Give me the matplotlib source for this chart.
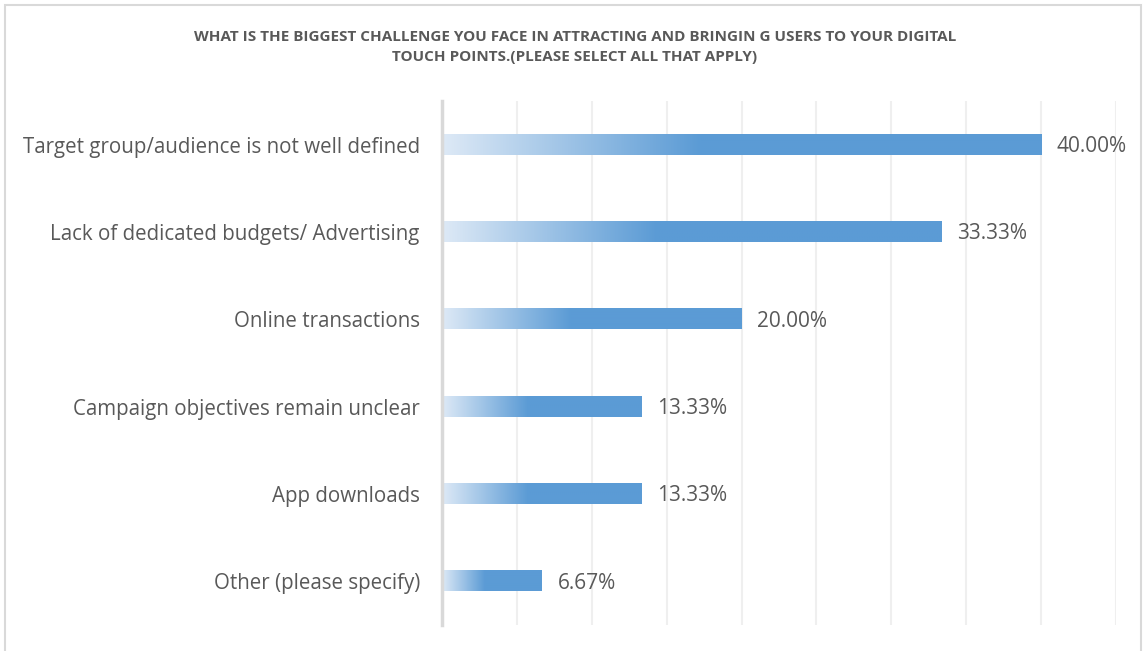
import numpy as np
import matplotlib.pyplot as plt
from matplotlib.colors import LinearSegmentedColormap
from matplotlib.patches import Rectangle

# survey answers, top to bottom
challenges = [
    "Target group/audience is not well defined",
    "Lack of dedicated budgets/ Advertising",
    "Online transactions",
    "Campaign objectives remain unclear",
    "App downloads",
    "Other (please specify)",
]
shares = [0.4000, 0.3333, 0.2000, 0.1333, 0.1333, 0.0667]
share_labels = ["40.00%", "33.33%", "20.00%", "13.33%", "13.33%", "6.67%"]

title = ("WHAT IS THE BIGGEST CHALLENGE YOU FACE IN ATTRACTING AND BRINGIN G USERS TO YOUR DIGITAL\n"
         "TOUCH POINTS.(PLEASE SELECT ALL THAT APPLY)")

TEXT = "#595959"
BLUE = "#5b9bd5"
grad = LinearSegmentedColormap.from_list("fade", ["#dde9f6", BLUE])

fig = plt.figure(figsize=(11.44, 6.51), dpi=100)
fig.patch.set_facecolor("white")

# light outer frame
fig.patches.append(Rectangle((5 / 1144, -0.05), 1136 / 1144, 1.05 - 5 / 651,
                             transform=fig.transFigure, fill=False,
                             edgecolor="#d9d9d9", linewidth=1.5))

ax = fig.add_axes([442 / 1144, 26 / 651, 674 / 1144, 524 / 651])

y = np.arange(len(challenges))
bars = ax.barh(y, shares, height=0.23, facecolor="none", edgecolor="none", zorder=3)

# gradient fill: light at the base, full blue from ~43% of the bar length
for bar in bars:
    x0, y0 = bar.get_x(), bar.get_y()
    w, h = bar.get_width(), bar.get_height()
    t = np.clip(np.linspace(0, 1, 300) / 0.43, 0, 1)
    ax.imshow(t[np.newaxis, :], cmap=grad, vmin=0, vmax=1, aspect="auto",
              extent=[x0, x0 + w, y0, y0 + h], interpolation="bilinear", zorder=3)

for bar, lab in zip(bars, share_labels):
    ax.text(bar.get_width() + 0.0105, bar.get_y() + bar.get_height() / 2 + 0.02, lab,
            va="center", ha="left", fontsize=15, color=TEXT,
            family=["Open Sans", "DejaVu Sans"])

ax.set_xlim(0, 0.45)
ax.set_ylim(len(challenges) - 0.5, -0.5)
ax.set_xticks(np.arange(0, 0.451, 0.05))
ax.set_xticklabels([])
ax.tick_params(axis="x", length=0)
ax.set_yticks(y)
ax.set_yticklabels(challenges, fontsize=14.8, color=TEXT, family=["Open Sans", "DejaVu Sans"])
ax.tick_params(axis="y", length=0, pad=16)
ax.grid(axis="x", color="#efefef", linewidth=1.5)
ax.set_axisbelow(True)
for side in ["top", "right", "bottom"]:
    ax.spines[side].set_visible(False)
ax.spines["left"].set_color("#d9d9d9")
ax.spines["left"].set_linewidth(2.5)
ax.spines["left"].set_zorder(4)

fig.text(575 / 1144, 1 - 47 / 651, title, ha="center", va="center", fontsize=11,
         fontweight="bold", color=TEXT, linespacing=1.55,
         family=["Open Sans", "DejaVu Sans"])

fig.savefig("out.png", dpi=100)
